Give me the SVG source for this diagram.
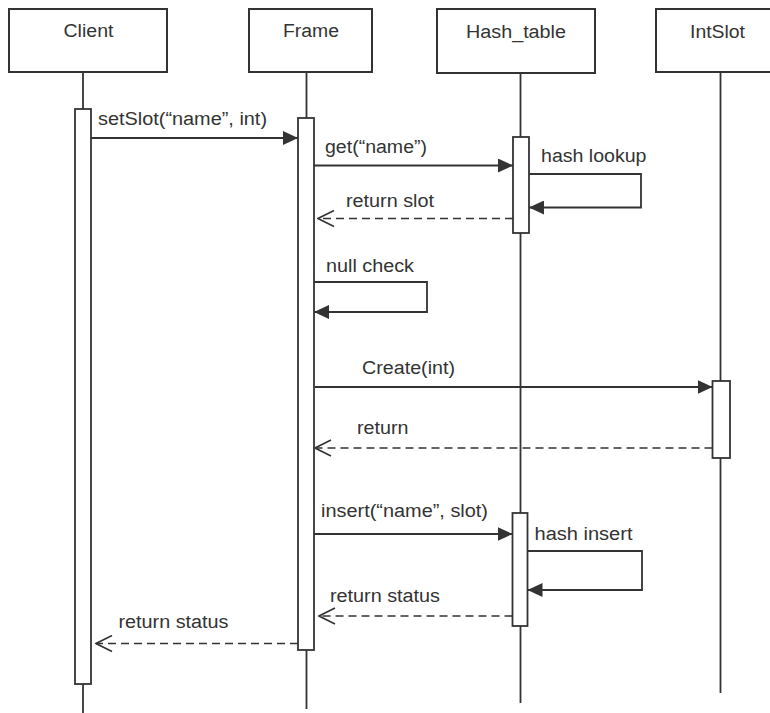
<svg xmlns="http://www.w3.org/2000/svg" width="770" height="713" viewBox="0 0 770 713">
<style>
.box{fill:#fff;stroke:#333;stroke-width:2}
.life{stroke:#333;stroke-width:1.8;fill:none}
.act{fill:#fff;stroke:#333;stroke-width:1.8}
.msg{stroke:#333;stroke-width:1.8;fill:none}
.ret{stroke:#333;stroke-width:1.6;fill:none;stroke-dasharray:8 5}
text{font-family:"Liberation Sans",Arial,sans-serif;font-size:18px;fill:#333}
</style>
<defs>
<marker id="fill" markerWidth="16" markerHeight="14" refX="15" refY="7" orient="auto" markerUnits="userSpaceOnUse">
<path d="M0,0 L15,7 L0,14 Z" fill="#333"/>
</marker>
<marker id="open" markerWidth="18" markerHeight="18" refX="17" refY="9" orient="auto" markerUnits="userSpaceOnUse">
<path d="M1,1 L17,9 L1,17" fill="none" stroke="#333" stroke-width="1.6"/>
</marker>
</defs>
<g id="lifelines">
<line class="life" x1="83" y1="72" x2="83" y2="713"/>
<line class="life" x1="306.5" y1="72" x2="306.5" y2="709"/>
<line class="life" x1="520.5" y1="73" x2="520.5" y2="703"/>
<line class="life" x1="720.5" y1="72" x2="720.5" y2="693"/>
</g>
<g id="client">
<rect class="box" x="9" y="9" width="158" height="63"/>
<text x="63.5" y="37" textLength="50" lengthAdjust="spacingAndGlyphs">Client</text>
<rect class="act" x="75" y="109" width="16" height="575"/>
</g>
<g id="frame">
<rect class="box" x="249" y="9" width="123" height="63"/>
<text x="283" y="36.5" textLength="56" lengthAdjust="spacingAndGlyphs">Frame</text>
<rect class="act" x="298" y="118" width="16" height="532"/>
</g>
<g id="hash_table">
<rect class="box" x="437" y="9" width="158" height="64"/>
<text x="466" y="37.5" textLength="100" lengthAdjust="spacingAndGlyphs">Hash_table</text>
<rect class="act" x="513" y="137" width="16" height="96"/>
<rect class="act" x="512.5" y="513" width="15" height="113"/>
</g>
<g id="intslot">
<rect class="box" x="656" y="9" width="124" height="63"/>
<text x="690" y="37.5" textLength="55" lengthAdjust="spacingAndGlyphs">IntSlot</text>
<rect class="act" x="712.5" y="381" width="17.5" height="77"/>
</g>
<g id="connectors">
<line class="msg" x1="91" y1="138" x2="298" y2="138" marker-end="url(#fill)"/>
<text x="98" y="125" textLength="169" lengthAdjust="spacingAndGlyphs">setSlot(“name”, int)</text>
<line class="msg" x1="314" y1="165.5" x2="513" y2="165.5" marker-end="url(#fill)"/>
<text x="325" y="153" textLength="102" lengthAdjust="spacingAndGlyphs">get(“name”)</text>
<polyline class="msg" points="529,174 641,174 641,207.5 529,207.5" marker-end="url(#fill)"/>
<text x="541" y="162" textLength="105.5" lengthAdjust="spacingAndGlyphs">hash lookup</text>
<line class="ret" x1="513" y1="218.5" x2="318" y2="218.5" marker-end="url(#open)"/>
<text x="346" y="207" textLength="88" lengthAdjust="spacingAndGlyphs">return slot</text>
<polyline class="msg" points="314,282 427,282 427,312 314,312" marker-end="url(#fill)"/>
<text x="326" y="272" textLength="88" lengthAdjust="spacingAndGlyphs">null check</text>
<line class="msg" x1="315" y1="387" x2="712.5" y2="387" marker-end="url(#fill)"/>
<text x="362" y="374" textLength="93" lengthAdjust="spacingAndGlyphs">Create(int)</text>
<line class="ret" x1="712.5" y1="448" x2="315" y2="448" marker-end="url(#open)"/>
<text x="357" y="434" textLength="51.5" lengthAdjust="spacingAndGlyphs">return</text>
<line class="msg" x1="314" y1="534" x2="512.5" y2="534" marker-end="url(#fill)"/>
<text x="321" y="517" textLength="167" lengthAdjust="spacingAndGlyphs">insert(“name”, slot)</text>
<polyline class="msg" points="527.5,551 642,551 642,590 527.5,590" marker-end="url(#fill)"/>
<text x="534.5" y="540" textLength="98" lengthAdjust="spacingAndGlyphs">hash insert</text>
<line class="ret" x1="512.5" y1="616" x2="319" y2="616" marker-end="url(#open)"/>
<text x="330" y="602" textLength="110" lengthAdjust="spacingAndGlyphs">return status</text>
<line class="ret" x1="298" y1="643.5" x2="96" y2="643.5" marker-end="url(#open)"/>
<text x="118.5" y="628" textLength="110" lengthAdjust="spacingAndGlyphs">return status</text>
</g>
</svg>
